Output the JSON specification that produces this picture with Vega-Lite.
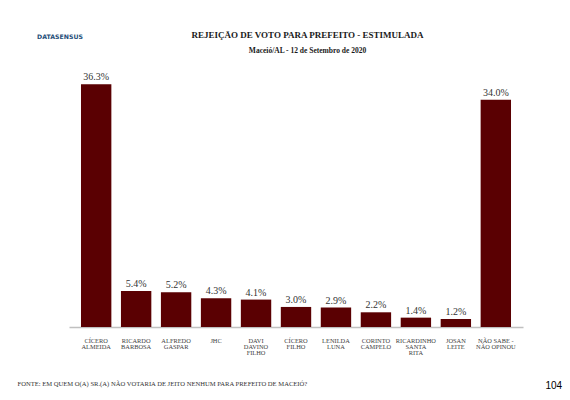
{
  "$schema": "https://vega.github.io/schema/vega-lite/v6.json",
  "width": 454,
  "height": 254,
  "autosize": {"type": "none"},
  "padding": {"left": 69, "right": 47, "top": 73, "bottom": 73},
  "background": "white",
  "title": {
    "text": "REJEIÇÃO DE VOTO PARA PREFEITO - ESTIMULADA",
    "subtitle": "Maceió/AL - 12 de Setembro de 2020",
    "frame": "group",
    "anchor": "middle",
    "dx": 11.5,
    "offset": -21,
    "font": "Liberation Serif",
    "fontSize": 9,
    "fontWeight": "bold",
    "color": "#1a1a1a",
    "subtitleFont": "Liberation Serif",
    "subtitleFontSize": 7.5,
    "subtitleFontWeight": "bold",
    "subtitleColor": "#1a1a1a",
    "subtitlePadding": 7
  },
  "data": {
    "values": [
      {"candidato": "CÍCERO|ALMEIDA", "v": 0.363},
      {"candidato": "RICARDO|BARBOSA", "v": 0.054},
      {"candidato": "ALFREDO|GASPAR", "v": 0.052},
      {"candidato": "JHC", "v": 0.043},
      {"candidato": "DAVI|DAVINO|FILHO", "v": 0.041},
      {"candidato": "CÍCERO|FILHO", "v": 0.030},
      {"candidato": "LENILDA|LUNA", "v": 0.029},
      {"candidato": "CORINTO|CAMPELO", "v": 0.022},
      {"candidato": "RICARDINHO|SANTA|RITA", "v": 0.014},
      {"candidato": "JOSAN|LEITE", "v": 0.012},
      {"candidato": "NÃO SABE -|NÃO OPINOU", "v": 0.340}
    ]
  },
  "encoding": {
    "x": {
      "field": "candidato",
      "type": "nominal",
      "sort": null,
      "scale": {"paddingInner": 0.24, "paddingOuter": 0.3},
      "axis": {
        "labelAngle": 0,
        "labelExpr": "split(datum.label, '|')",
        "labelFont": "Liberation Serif",
        "labelFontSize": 6.4,
        "labelLineHeight": 6.3,
        "labelColor": "#404040",
        "labelBaseline": "top",
        "labelPadding": 10,
        "ticks": false,
        "domainColor": "#c0c0c0",
        "domainWidth": 1.5,
        "title": "FONTE: EM QUEM O(A) SR.(A) NÃO VOTARIA DE JEITO NENHUM PARA PREFEITO DE MACEIÓ?",
        "titleFont": "Liberation Serif",
        "titleFontSize": 6.6,
        "titleFontWeight": "normal",
        "titleColor": "#333333",
        "titleAnchor": "start",
        "titleAlign": "left",
        "titleBaseline": "middle",
        "titleX": -52,
        "titleY": 56
      }
    },
    "y": {
      "field": "v",
      "type": "quantitative",
      "scale": {"domain": [0, 0.38]}
    }
  },
  "layer": [
    {
      "mark": {"type": "bar", "color": "#5a0002"},
      "encoding": {
        "y": {
          "field": "v",
          "type": "quantitative",
          "axis": {
            "orient": "left",
            "domain": false,
            "ticks": false,
            "labels": false,
            "grid": false,
            "title": "DATASENSUS",
            "titleFont": "DejaVu Sans",
            "titleFontSize": 6.2,
            "titleFontWeight": "bold",
            "titleColor": "#1f4e79",
            "titleAngle": 0,
            "titleAlign": "center",
            "titleBaseline": "middle",
            "titleX": -9.5,
            "titleY": -37
          }
        }
      }
    },
    {
      "mark": {"type": "text", "baseline": "bottom", "dy": -2, "font": "Liberation Serif", "fontSize": 10, "color": "#333333"},
      "encoding": {
        "text": {"field": "v", "type": "quantitative", "format": ".1%"},
        "y": {
          "field": "v",
          "type": "quantitative",
          "axis": {
            "orient": "right",
            "domain": false,
            "ticks": false,
            "labels": false,
            "grid": false,
            "title": "104",
            "titleFont": "Liberation Sans",
            "titleFontSize": 10,
            "titleFontWeight": "normal",
            "titleColor": "#000000",
            "titleAngle": 0,
            "titleAlign": "left",
            "titleBaseline": "middle",
            "titleX": 22,
            "titleY": 312
          }
        }
      }
    }
  ],
  "resolve": {"axis": {"y": "independent"}},
  "config": {"view": {"stroke": null}}
}
